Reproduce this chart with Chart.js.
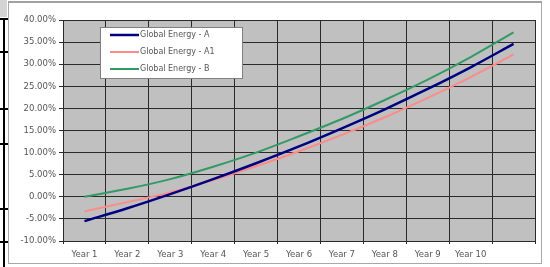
<!DOCTYPE html>
<html>
<head>
<meta charset="utf-8">
<script src="https://cdn.jsdelivr.net/npm/chart.js@4/dist/chart.umd.min.js"></script>
<style>
  html, body { margin: 0; padding: 0; background: #ffffff; }
  #wrap { position: relative; width: 550px; height: 267px; overflow: hidden; }
  #c { position: absolute; left: 0; top: 0; }
  .frame { position: absolute; left: 8px; top: 1px; width: 534px; height: 263px; border: 1px solid #a8a8a8; border-top: 2px solid #a0a0a0; box-sizing: border-box; }
  .cellv { position: absolute; left: 3px; top: 18px; width: 2px; height: 249px; background: #000; }
  .cellh { position: absolute; left: 0; width: 8px; height: 2px; background: #000; }
  .cellg { position: absolute; left: 0; top: 0; width: 7px; height: 17px; background: #d4d4d4; }
</style>
</head>
<body>
<div id="wrap">
  <div class="cellg"></div>
  <div class="cellv"></div>
  <div class="cellh" style="top:18px"></div>
  <div class="cellh" style="top:51px"></div>
  <div class="cellh" style="top:108px"></div>
  <div class="cellh" style="top:143px"></div>
  <div class="cellh" style="top:208px"></div>
  <div class="cellh" style="top:241px"></div>
  <div class="frame"></div>
  <canvas id="c" width="550" height="267"></canvas>
</div>
<script>
const categories = ["Year 1", "Year 2", "Year 3", "Year 4", "Year 5", "Year 6", "Year 7", "Year 8", "Year 9", "Year 10", ""];
const seriesNames = ["Global Energy - A", "Global Energy - A1", "Global Energy - B"];
const energyA  = [-5.5, -2.6, 0.6, 4.0, 7.6, 11.4, 15.5, 19.8, 24.4, 29.3, 34.6];
const energyA1 = [-3.3, -1.2, 1.0, 3.8, 6.9, 10.3, 14.0, 18.0, 22.4, 27.1, 32.2];
const energyB  = [0.0, 1.8, 4.0, 6.8, 10.0, 13.7, 17.6, 21.9, 26.5, 31.6, 37.2];
const yMin = -10, yMax = 40, yStep = 5;

const plotBg = {
  id: 'plotBg',
  beforeDraw(chart) {
    const {ctx, chartArea: a} = chart;
    ctx.save();
    ctx.fillStyle = '#c0c0c0';
    ctx.fillRect(a.left, a.top, a.right - a.left, a.bottom - a.top);
    ctx.restore();
  }
};

const boxLegend = {
  id: 'boxLegend',
  afterDraw(chart) {
    const ctx = chart.ctx;
    const x0 = 100, y0 = 27, w = 142, h = 51;
    ctx.save();
    ctx.fillStyle = '#ffffff';
    ctx.fillRect(x0, y0, w, h);
    ctx.strokeStyle = '#808080';
    ctx.lineWidth = 1;
    ctx.strokeRect(x0 + 0.5, y0 + 0.5, w, h);
    ctx.font = '8px "DejaVu Sans"';
    ctx.textBaseline = 'middle';
    chart.data.datasets.forEach((ds, i) => {
      const yy = y0 + 8 + i * 17;
      ctx.strokeStyle = ds.borderColor;
      ctx.lineWidth = ds.borderWidth;
      ctx.beginPath();
      ctx.moveTo(x0 + 10, yy);
      ctx.lineTo(x0 + 39, yy);
      ctx.stroke();
      ctx.fillStyle = '#555';
      ctx.fillText(ds.label, x0 + 40, yy);
    });
    ctx.restore();
  }
};

new Chart(document.getElementById('c'), {
  type: 'line',
  data: {
    labels: categories,
    datasets: [
      { label: seriesNames[0], data: energyA,  borderColor: '#000080', borderWidth: 2.5 },
      { label: seriesNames[1], data: energyA1, borderColor: '#ff8a8a', borderWidth: 2 },
      { label: seriesNames[2], data: energyB,  borderColor: '#339966', borderWidth: 2 }
    ]
  },
  options: {
    responsive: false,
    animation: false,
    devicePixelRatio: 1,
    layout: { padding: { left: 8, right: 15, top: 20, bottom: 4 } },
    elements: { point: { radius: 0 }, line: { tension: 0.4, cubicInterpolationMode: 'monotone', fill: false } },
    plugins: { legend: { display: false }, tooltip: { enabled: false } },
    scales: {
      x: {
        type: 'category',
        offset: true,
        grid: { offset: true, color: '#2a2a2a', lineWidth: 1, drawTicks: true, tickLength: 3 },
        border: { color: '#2a2a2a' },
        ticks: { color: '#555', font: { family: 'DejaVu Sans', size: 8.5 }, maxRotation: 0, autoSkip: false, padding: 6 },
        afterFit(s) { s.height = 22; }
      },
      y: {
        min: yMin, max: yMax,
        grid: { color: '#2a2a2a', lineWidth: 1, tickLength: 4 },
        border: { color: '#2a2a2a' },
        ticks: {
          stepSize: yStep,
          color: '#555',
          font: { family: 'DejaVu Sans', size: 8.5 },
          padding: 3,
          callback: v => v.toFixed(2) + '%'
        },
        afterFit(s) { s.width = 55; }
      }
    }
  },
  plugins: [plotBg, boxLegend]
});
</script>
</body>
</html>
